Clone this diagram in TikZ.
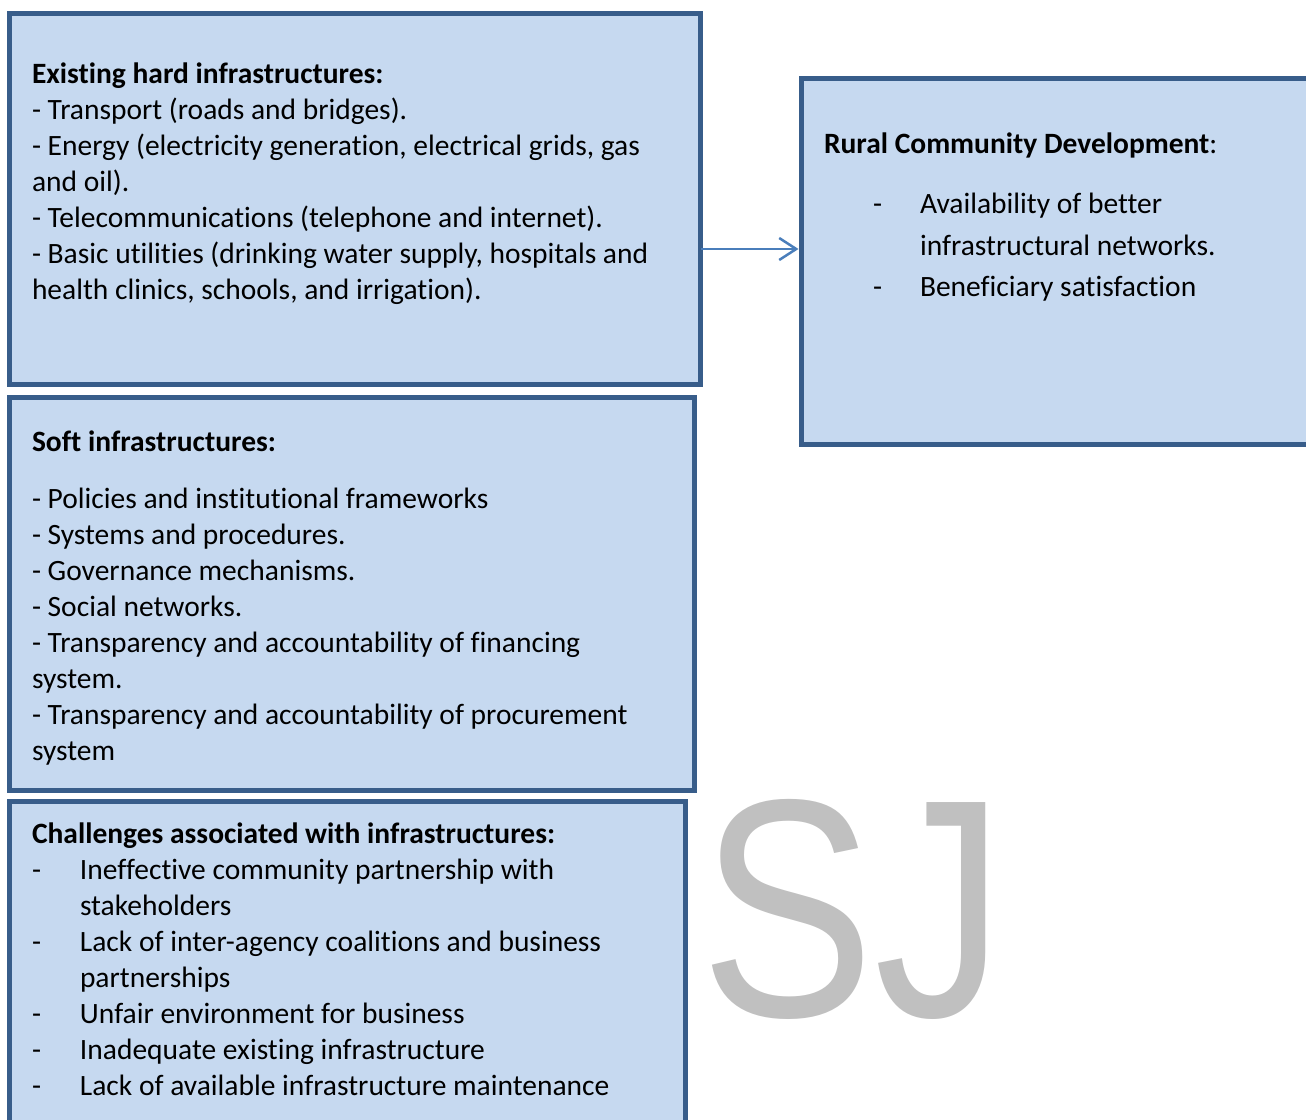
\documentclass[tikz,border=0pt]{standalone}
\usepackage{fontspec}
\setmainfont{Carlito}[Ligatures=NoCommon]
\newfontfamily\wmfont{Liberation Sans}
\usetikzlibrary{arrows.meta}
\definecolor{boxfill}{HTML}{C6D9F0}
\definecolor{boxline}{HTML}{385D8A}
\definecolor{arrowcol}{HTML}{4A7EBB}
\definecolor{wmgray}{HTML}{C0C0C0}
\newcommand\fs{\rule{0pt}{25pt}}
\begin{document}
\begin{tikzpicture}[x=1pt,y=1pt,
  panel/.style={draw=boxline, fill=boxfill, line width=5pt, rectangle, anchor=north west, outer sep=0pt, inner sep=0pt},
  body/.style={anchor=north west, inner sep=0pt, outer sep=0pt, align=left, text=black, font=\fontsize{29.5}{36}\selectfont},
  link/.style={draw=arrowcol, line width=2.5pt, -{Straight Barb[length=17pt,width=22pt,line width=2.5pt]}}]
\useasboundingbox (0,0) rectangle (1306,-1119);
\clip (0,0) rectangle (1306,-1119);
% boxes
\node[panel, minimum width=691.2pt, minimum height=370.5pt] (hard) at (9.5,-13.5) {};
\node[panel, minimum width=685pt, minimum height=393pt] (soft) at (9,-397.5) {};
\node[panel, minimum width=676.8pt, minimum height=340pt] (chal) at (9,-801.5) {};
\node[panel, minimum width=530pt, minimum height=366pt] (rural) at (801.5,-78) {};
% texts
\node[body] (hardtext) at (32,-58.5) {\fs\textbf{Existing hard infrastructures:}\\
- Transport (roads and bridges).\\
- Energy (electricity generation, electrical grids, gas\\
and oil).\\
- Telecommunications (telephone and internet).\\
- Basic utilities (drinking water supply, hospitals and\\
health clinics, schools, and irrigation).};
\node[body] (softtext) at (32,-426.5) {\fs\textbf{Soft infrastructures:}\\[21pt]
- Policies and institutional frameworks\\
- Systems and procedures.\\
- Governance mechanisms.\\
- Social networks.\\
- Transparency and accountability of financing\\
system.\\
- Transparency and accountability of procurement\\
system};
\node[body] (chaltext) at (32,-818.5) {\fs\textbf{Challenges associated with infrastructures:}\\
\makebox[48pt][l]{-}Ineffective community partnership with\\
\hspace*{48pt}stakeholders\\
\makebox[48pt][l]{-}Lack of inter-agency coalitions and business\\
\hspace*{48pt}partnerships\\
\makebox[48pt][l]{-}Unfair environment for business\\
\makebox[48pt][l]{-}Inadequate existing infrastructure\\
\makebox[48pt][l]{-}Lack of available infrastructure maintenance};
\node[body, font=\fontsize{29.5}{41.5}\selectfont] (ruraltext) at (824,-128.5) {\fs\textbf{Rural Community Development}:\\[18.5pt]
\hspace*{49pt}\makebox[47pt][l]{-}Availability of better\\
\hspace*{96pt}infrastructural networks.\\
\hspace*{49pt}\makebox[47pt][l]{-}Beneficiary satisfaction};
% connector
\coordinate (ay) at (0,-249);
\draw[link, shorten >=3pt] (hard.east |- ay) -- (rural.west |- ay);
% watermark
\node[anchor=base west, inner sep=0pt, text=wmgray, font=\wmfont\fontsize{311}{311}\selectfont] (wm) at (700,-1016) {\scalebox{0.84}[1]{SJ}};
\end{tikzpicture}
\end{document}
